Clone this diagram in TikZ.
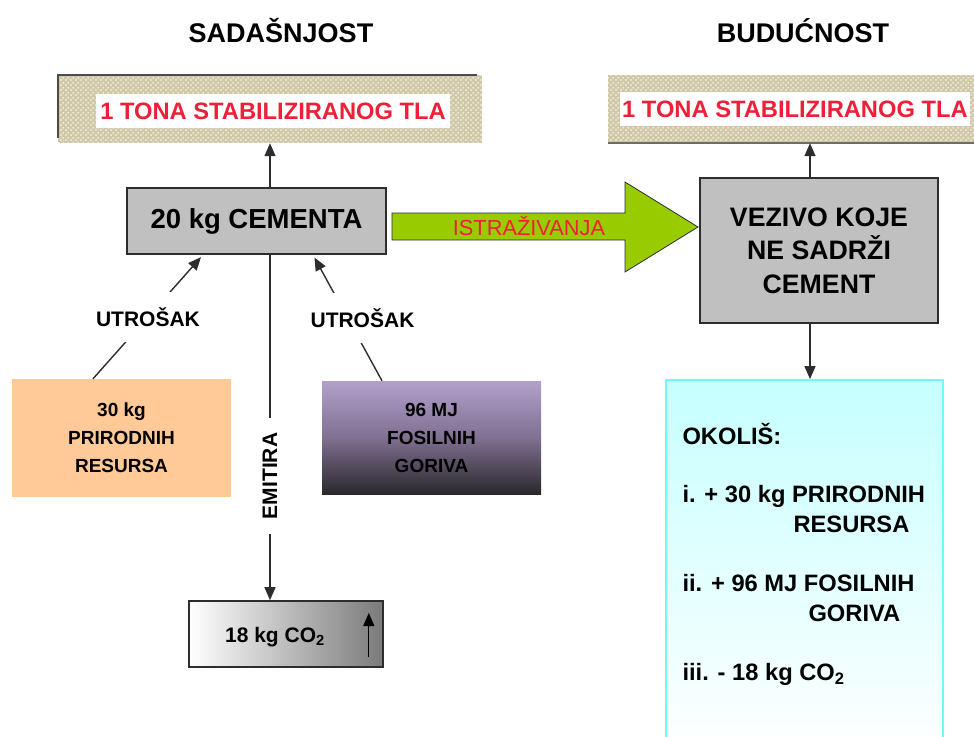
\documentclass[tikz,border=0pt]{standalone}
\usepackage{fontspec}
\setmainfont{Liberation Sans}
\usetikzlibrary{patterns.meta,arrows.meta}

\definecolor{tlared}{RGB}{238,32,56}
\definecolor{cementgray}{RGB}{192,192,192}
\definecolor{linegray}{RGB}{45,45,45}
\definecolor{arrowgreen}{RGB}{153,204,0}
\definecolor{peach}{RGB}{255,202,152}
\definecolor{lavender}{RGB}{178,160,204}
\definecolor{midviolet}{RGB}{128,112,145}
\definecolor{darkviolet}{RGB}{42,40,44}
\definecolor{soilbeige}{RGB}{208,200,166}
\definecolor{aqua}{RGB}{110,250,250}
\definecolor{paleaqua}{RGB}{198,255,255}

% light spots on the soil boxes
\tikzdeclarepattern{
    name=sanddots,
    type=uncolored,
    bounding box={(0pt,0pt) and (5pt,5pt)},
    tile size={(5pt,5pt)},
    code={
        \fill (1.25pt,1.25pt) circle (1.05pt);
        \fill (3.75pt,3.75pt) circle (1.05pt);
    }
}

\begin{document}
\begin{tikzpicture}[x=1pt,y=-1pt]
    \newcommand{\axisx}{810} % x of the arrows on the right
    \newcommand{\lwconn}{1.4pt} % width of the connectors

    % styles of boxes and texts
    \tikzset{
        conn/.style={
            draw=linegray,
            line width=\lwconn,
            -{Triangle[length=13pt,width=11pt]}
            },
        soilbox/.style={
            fill=soilbeige,
            postaction={pattern=sanddots, pattern color=white!92!soilbeige},
            inner sep=0pt
            },
        graybox/.style={
            fill=cementgray,
            draw=linegray,
            line width=1.8pt
            },
        titlefont/.style={font=\bfseries\fontsize{27}{32}\selectfont},
        tlatext/.style={
            fill=white, text=tlared, inner xsep=2pt,
            minimum height=34pt,
            font=\bfseries\fontsize{23.7}{28}\selectfont
            },
        uselabel/.style={
            fill=white, inner xsep=1pt, minimum height=50pt,
            font=\bfseries\fontsize{21}{25}\selectfont
            },
        smallbold/.style={font=\bfseries\fontsize{19}{28}\selectfont},
        okltext/.style={anchor=base west, font=\bfseries\fontsize{23.7}{28}\selectfont}
    }

    \useasboundingbox (0,0) rectangle (974,736);
    \clip (0,0) rectangle (974,736);

    % titles
    \node[titlefont] (tNow) at (281,31) {SADAŠNJOST};
    \node[titlefont] (tFut) at (803,31) {BUDUĆNOST};

    % soil boxes
    \node[soilbox, minimum width=424pt, minimum height=68pt] (soilL) at (270,109) {};
    \draw[linegray!85, line width=2pt] ([yshift=5pt]soilL.south west) |- ([xshift=-5pt]soilL.north east);
    \node[tlatext, minimum width=354pt] (tlaL) at (273,111) {1 TONA STABILIZIRANOG TLA};

    \node[soilbox, minimum width=382pt, minimum height=68pt] (soilR) at (799,109) {};
    \draw[linegray!70, line width=2pt] (soilR.south west) -- (soilR.south east);
    \node[tlatext, anchor=west] (tlaR) at (620,109) {1 TONA STABILIZIRANOG TLA};

    % present: cement and its inputs
    \node[graybox, minimum width=259pt, minimum height=66pt,
          font=\bfseries\fontsize{27.5}{32}\selectfont] (cement) at (256.5,221) {20 kg CEMENTA};
    \node[fill=peach, minimum width=219pt, minimum height=118pt, align=center, smallbold] (resurs) at (121.5,438) {30 kg\\PRIRODNIH\\RESURSA};
    \node[top color=lavender, bottom color=darkviolet, middle color=midviolet,
          minimum width=219pt, minimum height=113pt, align=center, smallbold] (fosil) at (431.5,437.5) {96 MJ\\FOSILNIH\\GORIVA};
    \node[left color=white, right color=black!52, draw=linegray, line width=1.6pt,
          minimum width=194pt, minimum height=66pt] (co2) at (286,634) {};
    \node[font=\bfseries\fontsize{21}{25}\selectfont] (co2txt) at (275,637) {18 kg CO\textsubscript{2}};

    % future: binder and environment
    \node[graybox, minimum width=238pt, minimum height=145pt, align=center,
          font=\bfseries\fontsize{26.7}{33.5}\selectfont] (vezivo) at (819,250.5) {VEZIVO KOJE\\NE SADRŽI\\CEMENT};
    \node[top color=paleaqua, bottom color=white, draw=aqua, line width=1.8pt,
          minimum width=277pt, minimum height=380pt] (okolis) at (804.5,570) {};
    \node[okltext] (okl0) at (679,444.5) {OKOLIŠ:};
    \node[okltext] (okl1) at (679,502.5) {i. + 30 kg PRIRODNIH};
    \node[okltext] (okl2) at (790,532) {RESURSA};
    \node[okltext] (okl3) at (679,591.5) {ii. + 96 MJ FOSILNIH};
    \node[okltext] (okl4) at (805,621) {GORIVA};
    \node[okltext] (okl5) at (679,680.5) {iii. - 18 kg CO\textsubscript{2}};

    % research arrow
    \filldraw[fill=arrowgreen, draw=linegray, line width=0.8pt]
        (392,213) -- (625,213) -- (625,182) -- (698,227) -- (625,272) -- (625,240) -- (392,240) -- cycle;
    \node[text=tlared, font=\fontsize{21.8}{26}\selectfont] (istr) at (529,226) {ISTRAŽIVANJA};

    % connectors
    \coordinate (axisR) at (\axisx,0);
    \draw[conn] (cement.north -| soilL.south) -- (soilL.south);
    \draw[conn] (vezivo.north -| axisR) -- (soilR.south -| axisR);
    \draw[conn] (vezivo.south -| axisR) -- (okolis.north -| axisR);
    \draw[conn] (cement.south -| soilL.south) -- node[pos=0.64, rotate=90, fill=white, inner xsep=15pt,
          font=\bfseries\fontsize{21}{25}\selectfont] (emit) {EMITIRA} (co2.north -| soilL.south);
    \draw[conn, shorten >=3pt] ([xshift=-28.5pt]resurs.north) -- node[midway, uselabel] (useL) {UTROŠAK} ([xshift=-53.5pt]cement.south);
    \draw[conn, shorten >=3pt] ([xshift=-49.5pt]fosil.north) -- node[midway, xshift=15pt, uselabel] (useR) {UTROŠAK} ([xshift=56.5pt]cement.south);
    \draw[conn, draw=black, line width=1.2pt] ([xshift=-15pt,yshift=-23pt]co2.east) -- ([xshift=-15pt,yshift=21pt]co2.east);
\end{tikzpicture}
\end{document}
